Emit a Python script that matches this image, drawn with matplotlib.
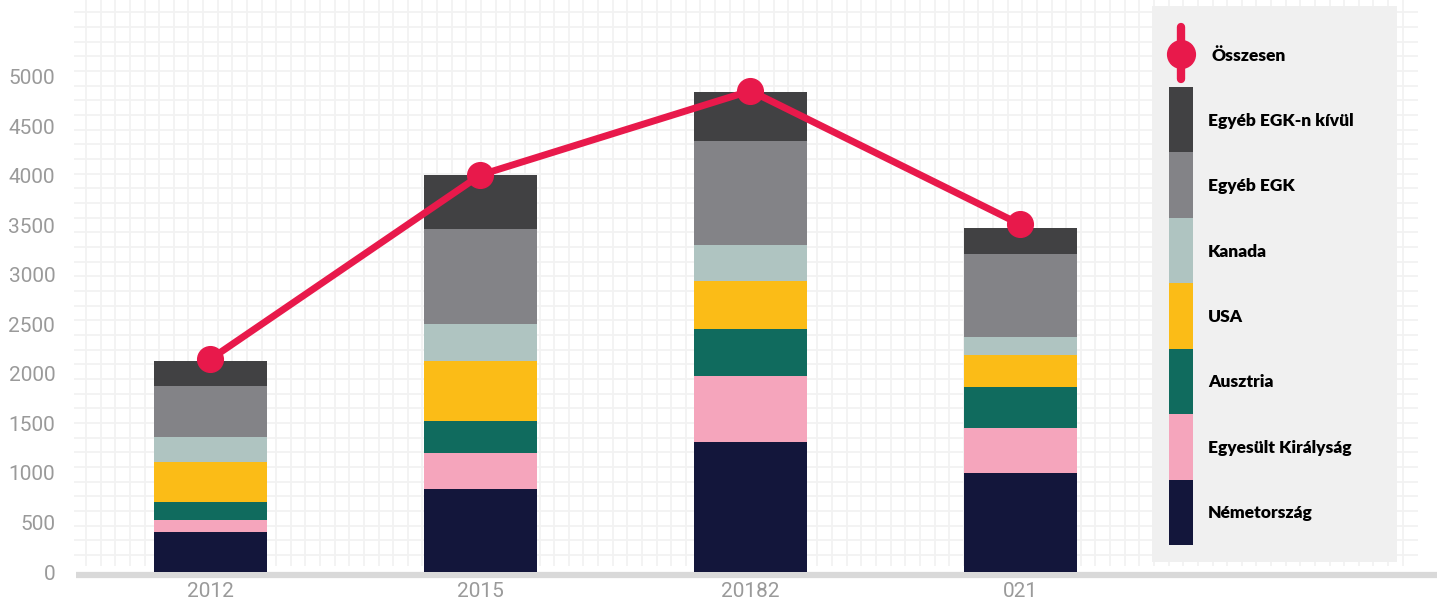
import numpy as np
import matplotlib
matplotlib.use("Agg")
import matplotlib.pyplot as plt
from matplotlib.patches import Rectangle


# ADATOK

evek = ["2012", "2015", "20182", "021"]

nemetorszag = [405, 838, 1313, 1000]
egyesult_kiralysag = [120, 364, 667, 454]
ausztria = [182, 323, 474, 415]
usa = [407, 606, 485, 323]
kanada = [249, 374, 364, 182]
egyeb_egk = [516, 959, 1050, 838]
egyeb_egk_kivul = [252, 546, 495, 262]

osszesen = [2150, 4010, 4860, 3510]

sorozatok = [
    ("Németország", nemetorszag, "#13163B"),
    ("Egyesült Királyság", egyesult_kiralysag, "#F5A5BC"),
    ("Ausztria", ausztria, "#106B5E"),
    ("USA", usa, "#FBBC17"),
    ("Kanada", kanada, "#AFC4C1"),
    ("Egyéb EGK", egyeb_egk, "#838387"),
    ("Egyéb EGK-n kívül", egyeb_egk_kivul, "#414143"),
]

piros = "#E8194B"
W, H = 1446, 604


# ABRA

fig = plt.figure(figsize=(W / 100, H / 100), dpi=100)

# hatter racs
ax_bg = fig.add_axes([0, 0, 1, 1], zorder=0)
ax_bg.set_xlim(0, W)
ax_bg.set_ylim(H, 0)
ax_bg.set_axis_off()
ax_bg.vlines(np.arange(86, 1416, 14.63), 0, 566, color="#f2f2f2", lw=1.3)
ax_bg.hlines(np.arange(12.3, 567, 14.67), 74, 1418, color="#f2f2f2", lw=1.3)
ax_bg.hlines(575, 76, 1437, color="#d9d9d9", lw=4.5)

# fo tengely
ax = fig.add_axes([76 / W, 32 / H, (1437 - 76) / W, 572 / H], zorder=1)
ax.set_facecolor("none")

x = np.arange(len(evek))
alap = np.zeros(len(evek))
for nev, ertekek, szin in sorozatok:
    ax.bar(x, ertekek, bottom=alap, width=0.42, color=szin, label=nev)
    alap += np.array(ertekek)

ax.plot(
    x,
    osszesen,
    color=piros,
    lw=5,
    marker="o",
    markersize=18.5,
    label="Összesen",
    zorder=3
)

ax.set_xlim(-0.498, 4.543)
ax.set_ylim(0, 5777)

ax.set_yticks(np.arange(0, 5001, 500))
ax.set_xticks(x)
ax.set_xticklabels(evek)

for s in ax.spines.values():
    s.set_visible(False)

ax.tick_params(
    axis="both",
    length=0,
    colors="#9a9a9a",
    labelsize=15
)
ax.tick_params(axis="y", pad=15)
ax.tick_params(axis="x", pad=7)
for lab in ax.get_xticklabels() + ax.get_yticklabels():
    lab.set_fontfamily("Roboto")


# JELMAGYARAZAT

ax_leg = fig.add_axes(
    [1152 / W, (H - 562) / H, 245 / W, 556 / H],
    zorder=2
)
ax_leg.set_xlim(1152, 1397)
ax_leg.set_ylim(562, 6)
ax_leg.set_facecolor("#f0f0f0")
ax_leg.set_xticks([])
ax_leg.set_yticks([])
for s in ax_leg.spines.values():
    s.set_visible(False)

betu = dict(
    fontsize=12.5,
    fontweight="heavy",
    fontfamily="Lato",
    color="black",
    va="center"
)

ax_leg.plot([1181, 1181], [27, 79], color=piros, lw=6, solid_capstyle="round")
ax_leg.plot([1181], [54], marker="o", markersize=20, color=piros)
ax_leg.text(1212, 56, "Összesen", **betu)

sor_mag = (545 - 87) / len(sorozatok)
for i, (nev, ertekek, szin) in enumerate(sorozatok[::-1]):
    y0 = 87 + i * sor_mag
    ax_leg.add_patch(Rectangle((1169, y0), 24, sor_mag, color=szin, lw=0))
    ax_leg.text(1208, y0 + sor_mag / 2 + 1, nev, **betu)

fig.savefig("out.png", dpi=100)
